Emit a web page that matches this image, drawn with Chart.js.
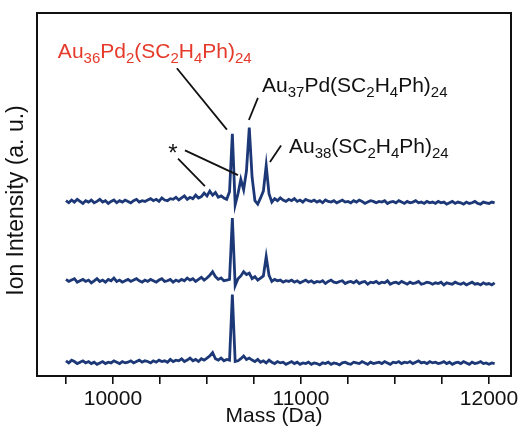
<!DOCTYPE html>
<html>
<head>
<meta charset="utf-8">
<script src="https://cdn.jsdelivr.net/npm/chart.js@4.4.1/dist/chart.umd.min.js"></script>
<style>
  html, body { margin: 0; padding: 0; background: #fff; }
  #wrap { position: relative; width: 532px; height: 428px; }
</style>
</head>
<body>
<div id="wrap"><canvas id="spectrum"></canvas></div>
<script>
// ==========================================================================
// DATA
// ==========================================================================

// mass axis of the sampled spectra (Da): first point + spacing
const massStart = 9750;
const massStep = 15;

// ion intensities (a.u.), relative to each trace's own baseline
const intensityTop = [
    2, -1, 3, 0, 4, 1, -2, 2, 0, 3,
    -1, 1, 4, 0, 2, -2, 1, 3, -1, 2,
    0, 3, 1, -1, 2, 4, 0, 2, 1, 3,
    5, 2, 4, 1, 6, 3, 2, 5, 4, 7,
    3, 6, 9, 4, 7, 5, 10, 6, 8, 13,
    9, 16, 10, 14, 7, 9, 6, 4, 15, 99,
    -4, 12, 33, 18, 45, 108, 36, 2, -3, 6,
    16, 53, 12, 0, 5, 2, 6, 3, 1, 4,
    2, 5, 1, 3, 0, 4, 2, 1, 3, 0,
    2, -1, 3, 1, 0, 2, -1, 1, 3, 0,
    1, -1, 2, 0, 3, 1, -2, 0, 2, 1,
    -1, 1, 0, 2, -2, 0, 1, -1, 2, 0,
    -2, 1, -1, 0, 2, -1, 0, -2, 1, -1,
    0, -2, 1, -1, 0, -3, -1, 1, -2, 0,
    -1, -3, 0, -2, -1, 1, -2, -3, 0, -1,
    -2, 0, -1
];
const intensityMiddle = [
    4, 1, 3, 5, 0, 2, 4, 1, 3, -1,
    2, 5, 1, 3, 0, 4, 2, 6, 1, 3,
    0, 2, 4, 1, 3, 5, 2, 0, 3, 1,
    4, 2, 0, 3, 5, 1, 2, 4, 0, 3,
    1, 4, 2, 6, 3, 5, 1, 4, 7, 3,
    6, 10, 15, 8, 4, 6, 2, 3, 4, 93,
    -5, 5, 9, 15, 11, 13, 5, 8, 3, 6,
    9, 37, 10, 1, 4, 2, 3, 0, 2, 1,
    3, 0, 2, -1, 1, 3, 0, 2, -1, 1,
    0, 2, -2, 1, 3, 0, -1, 1, 2, -2,
    0, 1, -1, 2, -2, 0, 1, -3, 0, -1,
    1, -2, 0, -1, 2, -3, -1, 0, -2, 1,
    -1, -3, 0, -2, -1, 1, -3, -2, 0, -1,
    -3, -1, -2, 0, -4, -1, -2, -3, 0, -2,
    -3, -1, -4, -2, 0, -3, -2, -4, -1, -3,
    -2, -4, -1
];
const intensityBottom = [
    2, -1, 3, 1, -2, 0, 2, -1, 1, -2,
    0, -3, -1, 1, -2, 0, -1, 2, 0, -2,
    1, -1, 0, 2, -1, 1, 3, 0, 2, 1,
    -1, 2, 0, 3, 1, 2, 0, 4, 1, 3,
    2, 5, 1, 3, 6, 2, 4, 1, 5, 3,
    6, 9, 14, 5, 3, 6, 2, 4, 3, 98,
    1, 2, 5, 9, 4, 6, 3, 1, 4, 0,
    2, -1, 3, 0, -2, 1, -1, 0, -3, -1,
    1, -2, 0, -3, -1, -2, 0, -3, -1, -2,
    -4, -1, -2, 0, -3, -1, -2, -4, -1, 0,
    -2, -3, 0, -1, -2, 1, -1, -3, 0, -2,
    -1, 0, -2, 1, -1, -3, 0, -1, 1, -2,
    0, -1, 1, -2, 0, 2, -1, 0, -2, 1,
    -1, 0, -2, -1, 1, -2, 0, -3, -1, 0,
    -2, 1, -1, -3, 0, -2, -1, 1, -2, -1,
    -3, -1, -2
];

// stacking offsets (a.u.) for bottom, middle, top traces
const traceOffsets = [0, 116, 232];

// axis ranges and ticks
const massRange = [9596, 12117];
const intensityRange = [-20, 506];
const tickMasses = [9750, 10000, 10250, 10500, 10750, 11000, 11250, 11500, 11750, 12000];
const labeledMasses = [10000, 11000, 12000];

// ==========================================================================
// ANNOTATIONS (anchored in data units: mass, stacked intensity)
// ==========================================================================
const peakLabels = [
    { parts: [['Au', 0], ['36', 1], ['Pd', 0], ['2', 1], ['(SC', 0], ['2', 1], ['H', 0], ['4', 1], ['Ph)', 0], ['24', 1]],
      mass: 9707, y: 441, color: '#e5392a' },
    { parts: [['Au', 0], ['37', 1], ['Pd(SC', 0], ['2', 1], ['H', 0], ['4', 1], ['Ph)', 0], ['24', 1]],
      mass: 10793, y: 391, color: '#111' },
    { parts: [['Au', 0], ['38', 1], ['(SC', 0], ['2', 1], ['H', 0], ['4', 1], ['Ph)', 0], ['24', 1]],
      mass: 10936, y: 303, color: '#111' }
];
const leaderLines = [
    [10340, 426, 10606, 337],
    [10771, 383, 10723, 351],
    [10894, 314, 10835, 290],
    [10346, 295, 10489, 255],
    [10383, 307, 10665, 271]
];
const starMark = { mass: 10319, y: 291 };

const FONT = '"Liberation Sans", Arial, Helvetica, sans-serif';
const TRACE_COLOR = '#1d3877';

// build {x, y} points from the arrays above
function stackTrace(values, offset) {
    return values.map((v, i) => ({ x: massStart + i * massStep, y: offset + v }));
}

// draws a chemical formula with subscript digits, left-aligned at baseline
function drawFormula(ctx, parts, x, y, color) {
    ctx.fillStyle = color;
    ctx.textAlign = 'left';
    ctx.textBaseline = 'alphabetic';
    let cx = x;
    parts.forEach(([txt, sub]) => {
        ctx.font = sub ? `15px ${FONT}` : `21px ${FONT}`;
        ctx.fillText(txt, cx, sub ? y + 5 : y);
        cx += ctx.measureText(txt).width;
    });
}

const annotationPlugin = {
    id: 'peakAnnotations',
    afterDatasetsDraw(chart) {
        const { ctx, scales: { x, y } } = chart;
        ctx.save();

        // leader lines
        ctx.strokeStyle = '#111';
        ctx.lineWidth = 1.8;
        leaderLines.forEach(([m1, y1, m2, y2]) => {
            ctx.beginPath();
            ctx.moveTo(x.getPixelForValue(m1), y.getPixelForValue(y1));
            ctx.lineTo(x.getPixelForValue(m2), y.getPixelForValue(y2));
            ctx.stroke();
        });

        // labels
        peakLabels.forEach(l => {
            drawFormula(ctx, l.parts, x.getPixelForValue(l.mass), y.getPixelForValue(l.y), l.color);
        });

        // side-product marker
        ctx.fillStyle = '#111';
        ctx.font = `24px ${FONT}`;
        ctx.textAlign = 'center';
        ctx.textBaseline = 'alphabetic';
        ctx.fillText('*', x.getPixelForValue(starMark.mass), y.getPixelForValue(starMark.y));

        ctx.restore();
    },
    afterDraw(chart) {
        const { ctx, chartArea: a } = chart;
        ctx.save();
        // frame around the plot
        ctx.strokeStyle = '#111';
        ctx.lineWidth = 2;
        ctx.strokeRect(a.left, a.top, a.right - a.left, a.bottom - a.top);

        // y axis title (axis itself is hidden)
        ctx.translate(17, (a.top + a.bottom) / 2 + 6);
        ctx.rotate(-Math.PI / 2);
        ctx.fillStyle = '#111';
        ctx.font = `23px ${FONT}`;
        ctx.textAlign = 'center';
        ctx.textBaseline = 'middle';
        ctx.fillText('Ion Intensity (a. u.)', 0, 0);
        ctx.restore();
    }
};

const traceStyle = {
    borderColor: TRACE_COLOR,
    borderWidth: 2.8,
    pointRadius: 0,
    tension: 0,
    fill: false
};

new Chart(document.getElementById('spectrum'), {
    type: 'line',
    data: {
        datasets: [
            { ...traceStyle, data: stackTrace(intensityTop, traceOffsets[2]) },
            { ...traceStyle, data: stackTrace(intensityMiddle, traceOffsets[1]) },
            { ...traceStyle, data: stackTrace(intensityBottom, traceOffsets[0]) }
        ]
    },
    options: {
        responsive: true,
        maintainAspectRatio: false,
        devicePixelRatio: 1,
        animation: false,
        layout: { padding: { left: 37, right: 21, top: 13, bottom: 1 } },
        plugins: {
            legend: { display: false },
            tooltip: { enabled: false }
        },
        scales: {
            x: {
                type: 'linear',
                min: massRange[0],
                max: massRange[1],
                afterBuildTicks: (axis) => {
                    axis.ticks = tickMasses.map(v => ({ value: v }));
                },
                ticks: {
                    autoSkip: false,
                    maxRotation: 0,
                    padding: 5,
                    color: '#111',
                    font: { family: FONT, size: 21, lineHeight: 1 },
                    callback: (value) => labeledMasses.includes(value) ? String(value) : ''
                },
                grid: {
                    drawOnChartArea: false,
                    drawTicks: true,
                    tickLength: 8,
                    color: '#111',
                    lineWidth: 1.6
                },
                border: { display: true, color: '#111', width: 2 },
                title: {
                    display: true,
                    text: 'Mass (Da)',
                    color: '#111',
                    font: { family: FONT, size: 21, lineHeight: 1 },
                    padding: { top: -9, bottom: 0 }
                }
            },
            y: {
                display: false,
                min: intensityRange[0],
                max: intensityRange[1]
            }
        }
    },
    plugins: [annotationPlugin]
});
</script>
</body>
</html>
